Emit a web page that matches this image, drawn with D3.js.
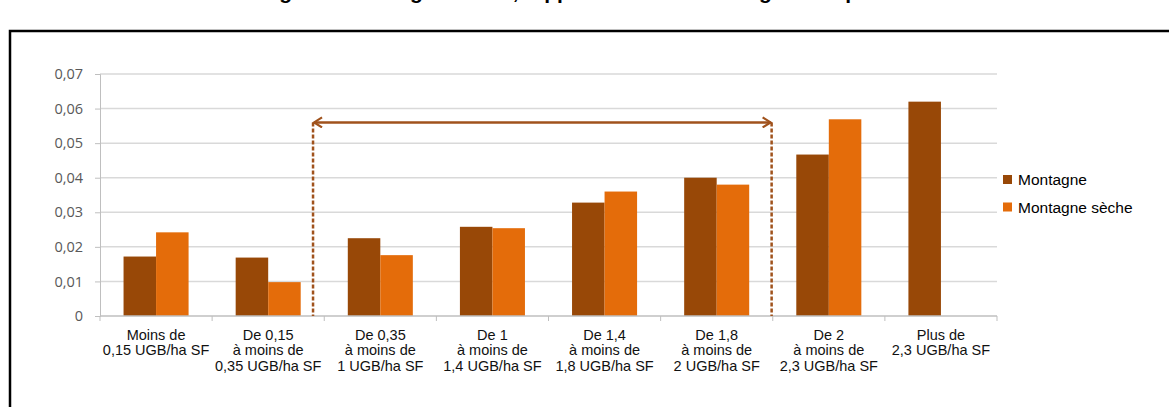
<!DOCTYPE html>
<html>
<head>
<meta charset="utf-8">
<script src="https://cdn.jsdelivr.net/npm/d3@7"></script>
<style>
	body { margin: 0; background: #fff; overflow: hidden; }
	svg { display: block; }
</style>
</head>
<body>
<svg id="chart"></svg>
<script>
// data
const categories = [
	["Moins de", "0,15 UGB/ha SF"],
	["De 0,15", "à moins de", "0,35 UGB/ha SF"],
	["De 0,35", "à moins de", "1 UGB/ha SF"],
	["De 1", "à moins de", "1,4 UGB/ha SF"],
	["De 1,4", "à moins de", "1,8 UGB/ha SF"],
	["De 1,8", "à moins de", "2 UGB/ha SF"],
	["De 2", "à moins de", "2,3 UGB/ha SF"],
	["Plus de", "2,3 UGB/ha SF"]
];
const seriesNames = ["Montagne", "Montagne sèche"];
const montagne = [0.0172, 0.0169, 0.0225, 0.0258, 0.0328, 0.0400, 0.0467, 0.0620];
const montagneSeche = [0.0242, 0.0098, 0.0176, 0.0254, 0.0360, 0.0380, 0.0569, null];
const yTicks = [0, 0.01, 0.02, 0.03, 0.04, 0.05, 0.06, 0.07];
const yTickLabels = ["0", "0,01", "0,02", "0,03", "0,04", "0,05", "0,06", "0,07"];
// bracket drawn over the middle classes (category positions, value of arrow)
const bracketFrom = 1.9;
const bracketTo = 5.99;
const bracketValue = 0.056;
const titleText = "Montagne et montagne sèche, rapprochement avec la grille de prime";

const W = 1169, H = 407;
const margin = { top: 74, right: 172, bottom: 91, left: 100 };
const colors = ["#984807", "#e46c0a"];
const arrowColor = "#a0521c";

const svg = d3.select("#chart").attr("width", W).attr("height", H);

// frame and title (cut off by the top edge, as in the source image)
svg.append("rect")
	.attr("x", 10).attr("y", 31)
	.attr("width", 1300).attr("height", 500)
	.attr("fill", "none").attr("stroke", "#000").attr("stroke-width", 2.5);
svg.append("text")
	.attr("x", 560).attr("y", -0.8)
	.attr("text-anchor", "middle")
	.attr("font-family", "Liberation Sans, Arial, sans-serif")
	.attr("font-weight", "bold").attr("font-size", 21)
	.text(titleText);

const x0 = d3.scaleBand()
	.domain(d3.range(categories.length))
	.range([margin.left, W - margin.right])
	.paddingInner(0.42).paddingOuter(0.21);
const x1 = d3.scaleBand().domain([0, 1]).range([0, x0.bandwidth()]);
const xIdx = d3.scaleLinear().domain([0, categories.length]).range([margin.left, W - margin.right]);
const y = d3.scaleLinear().domain([0, 0.07]).range([H - margin.bottom, margin.top]);

// gridlines
svg.append("g").selectAll("line")
	.data(yTicks.slice(1))
	.join("line")
	.attr("x1", margin.left).attr("x2", W - margin.right)
	.attr("y1", d => y(d)).attr("y2", d => y(d))
	.attr("stroke", "#d9d9d9").attr("stroke-width", 1.5);

// y axis
const yAxis = svg.append("g")
	.attr("transform", "translate(" + margin.left + ",0)")
	.call(d3.axisLeft(y).tickValues(yTicks).tickSize(5).tickPadding(12)
		.tickFormat((d, i) => yTickLabels[i]));
yAxis.select(".domain").attr("stroke", "#bfbfbf");
yAxis.selectAll(".tick line").attr("stroke", "#bfbfbf");
yAxis.selectAll("text")
	.attr("font-family", "Open Sans, sans-serif")
	.attr("font-size", 14.5).attr("fill", "#595959");

// bars
const data = categories.map((c, i) => [montagne[i], montagneSeche[i]]);
svg.append("g").selectAll("g")
	.data(data)
	.join("g")
	.attr("transform", (d, i) => "translate(" + x0(i) + ",0)")
	.selectAll("rect")
	.data(d => d.map((v, s) => ({ v: v, s: s })).filter(e => e.v != null))
	.join("rect")
	.attr("x", d => x1(d.s))
	.attr("width", x1.bandwidth())
	.attr("y", d => y(d.v))
	.attr("height", d => y(0) - y(d.v))
	.attr("fill", d => colors[d.s]);

// x axis
svg.append("line")
	.attr("x1", margin.left).attr("x2", W - margin.right)
	.attr("y1", y(0)).attr("y2", y(0))
	.attr("stroke", "#bfbfbf").attr("stroke-width", 1.5);
svg.append("g").selectAll("line")
	.data(d3.range(categories.length + 1))
	.join("line")
	.attr("x1", d => xIdx(d)).attr("x2", d => xIdx(d))
	.attr("y1", y(0)).attr("y2", y(0) + 5)
	.attr("stroke", "#bfbfbf");

const labels = svg.append("g").selectAll("text")
	.data(categories)
	.join("text")
	.attr("x", (d, i) => x0(i) + x0.bandwidth() / 2)
	.attr("y", y(0) + 23.5)
	.attr("text-anchor", "middle")
	.attr("font-family", "Liberation Sans, Arial, sans-serif")
	.attr("font-size", 14.5).attr("fill", "#111");
labels.selectAll("tspan")
	.data(d => d)
	.join("tspan")
	.attr("x", function() { return this.parentNode.getAttribute("x"); })
	.attr("dy", (d, i) => i == 0 ? 0 : 15.7)
	.text(d => d);

// dashed bracket with double arrow
const defs = svg.append("defs");
["arrowStart", "arrowEnd"].forEach(function(id, k) {
	defs.append("marker")
		.attr("id", id)
		.attr("viewBox", "-10 -6 12 12")
		.attr("markerWidth", 12).attr("markerHeight", 12)
		.attr("markerUnits", "userSpaceOnUse")
		.attr("orient", k == 0 ? "auto-start-reverse" : "auto")
		.append("path")
		.attr("d", "M-8,-5 L0,0 L-8,5")
		.attr("fill", "none").attr("stroke", arrowColor).attr("stroke-width", 2.2);
});
const bracket = svg.append("g");
[bracketFrom, bracketTo].forEach(function(p) {
	bracket.append("line")
		.attr("x1", xIdx(p)).attr("x2", xIdx(p))
		.attr("y1", y(bracketValue)).attr("y2", y(0))
		.attr("stroke", arrowColor).attr("stroke-width", 2.5)
		.attr("stroke-dasharray", "4,2");
});
bracket.append("line")
	.attr("x1", xIdx(bracketFrom) + 1).attr("x2", xIdx(bracketTo) - 1)
	.attr("y1", y(bracketValue)).attr("y2", y(bracketValue))
	.attr("stroke", arrowColor).attr("stroke-width", 2.5)
	.attr("marker-start", "url(#arrowStart)")
	.attr("marker-end", "url(#arrowEnd)");

// legend
const legend = svg.append("g").selectAll("g")
	.data(seriesNames)
	.join("g")
	.attr("transform", (d, i) => "translate(1003," + (179.5 + i * 27.5) + ")");
legend.append("rect")
	.attr("x", 0).attr("y", -4.5).attr("width", 9).attr("height", 9)
	.attr("fill", (d, i) => colors[i]);
legend.append("text")
	.attr("x", 15).attr("y", 5.5)
	.attr("font-family", "Liberation Sans, Arial, sans-serif")
	.attr("font-size", 15.5).attr("fill", "#000")
	.text(d => d);
</script>
</body>
</html>
